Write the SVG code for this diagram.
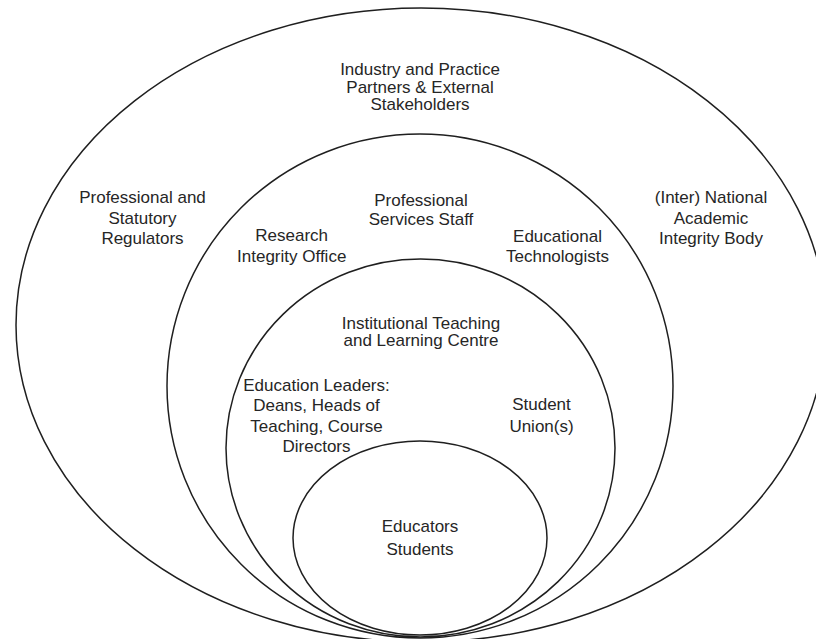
<svg xmlns="http://www.w3.org/2000/svg" width="816" height="639" viewBox="0 0 816 639">
  <style>
    .ring { fill: none; stroke: #1f1f1f; stroke-width: 1.5; }
    .lbl { font-family: "Liberation Sans", Arial, sans-serif; font-size: 17px; fill: #262626; text-anchor: middle; }
  </style>
  <rect x="0" y="0" width="816" height="639" fill="#ffffff"/>

  <!-- outer ring: external bodies -->
  <g id="external">
    <ellipse class="ring" cx="421" cy="325" rx="405" ry="317"/>
    <text class="lbl" x="420" y="75">Industry and Practice</text>
    <text class="lbl" x="420" y="92.5">Partners &amp; External</text>
    <text class="lbl" x="420" y="110">Stakeholders</text>
    <text class="lbl" x="142.5" y="203">Professional and</text>
    <text class="lbl" x="142.5" y="223.5">Statutory</text>
    <text class="lbl" x="142.5" y="243.5">Regulators</text>
    <text class="lbl" x="711" y="203">(Inter) National</text>
    <text class="lbl" x="711" y="223.5">Academic</text>
    <text class="lbl" x="711" y="243.5">Integrity Body</text>
  </g>

  <!-- second ring: institutional services -->
  <g id="services">
    <ellipse class="ring" cx="420" cy="386" rx="253" ry="252"/>
    <text class="lbl" x="421" y="206">Professional</text>
    <text class="lbl" x="421" y="224.5">Services Staff</text>
    <text class="lbl" x="291.7" y="241">Research</text>
    <text class="lbl" x="291.7" y="262">Integrity Office</text>
    <text class="lbl" x="557.5" y="241.5">Educational</text>
    <text class="lbl" x="557.5" y="262">Technologists</text>
  </g>

  <!-- third ring: teaching and learning -->
  <g id="teaching">
    <ellipse class="ring" cx="420.5" cy="448" rx="194.5" ry="189"/>
    <text class="lbl" x="421" y="328.5">Institutional Teaching</text>
    <text class="lbl" x="421" y="346">and Learning Centre</text>
    <text class="lbl" x="316.5" y="391">Education Leaders:</text>
    <text class="lbl" x="316.5" y="411">Deans, Heads of</text>
    <text class="lbl" x="316.5" y="431.5">Teaching, Course</text>
    <text class="lbl" x="316.5" y="451.5">Directors</text>
    <text class="lbl" x="541.5" y="410">Student</text>
    <text class="lbl" x="541.5" y="431.5">Union(s)</text>
  </g>

  <!-- core ring -->
  <g id="core">
    <ellipse class="ring" cx="420" cy="538" rx="127" ry="97"/>
    <text class="lbl" x="420" y="531.5">Educators</text>
    <text class="lbl" x="420" y="555">Students</text>
  </g>
</svg>
